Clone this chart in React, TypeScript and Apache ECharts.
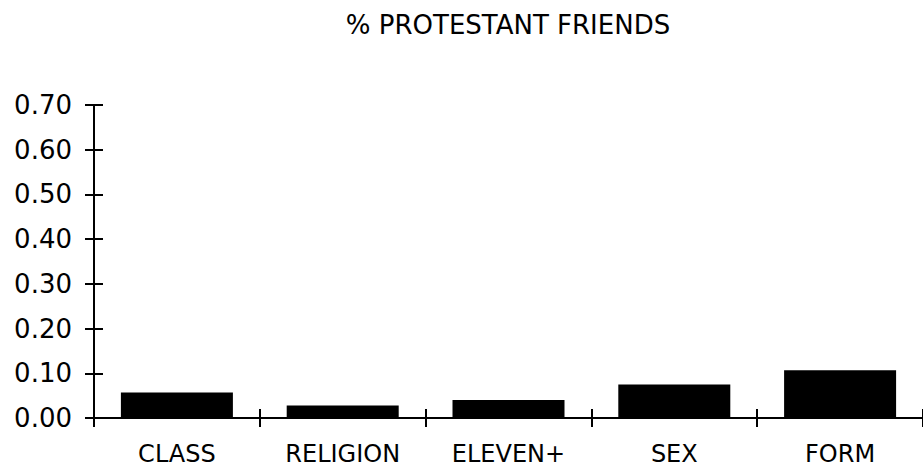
import React, { useEffect, useRef } from "react";
import * as echarts from "echarts";

const TITLE = "% PROTESTANT FRIENDS";
const categories = ["CLASS", "RELIGION", "ELEVEN+", "SEX", "FORM"];
const values = [0.057, 0.028, 0.04, 0.075, 0.107];
const yMin = 0;
const yMax = 0.7;
const yInterval = 0.1;

const FONT = "DejaVu Sans";

export default function App() {
  const ref = useRef<HTMLDivElement>(null);
  useEffect(() => {
    if (!ref.current) return;
    const chart = echarts.init(ref.current, undefined, { renderer: "svg" });
    const lineStyle = { color: "#000", width: 2 };
    chart.setOption({
      animation: false,
      backgroundColor: "#fff",
      graphic: [
        {
          type: "text",
          x: 508,
          y: 25,
          style: {
            text: TITLE,
            align: "center",
            verticalAlign: "middle",
            fontSize: 26,
            fontFamily: FONT,
            fill: "#000",
          },
        },
      ],
      grid: { left: 94, top: 105, bottom: 50, right: -5, containLabel: false },
      xAxis: [
        {
          type: "category",
          data: categories,
          position: "bottom",
          axisLine: { show: true, onZero: false, lineStyle },
          axisTick: { show: true, inside: false, length: 9, interval: 0, lineStyle },
          axisLabel: {
            show: true,
            interval: 0,
            margin: 26,
            fontSize: 24,
            lineHeight: 19,
            fontFamily: FONT,
            color: "#000",
          },
          splitLine: { show: false },
        },
        {
          type: "category",
          data: categories,
          position: "bottom",
          axisLine: { show: false, onZero: false },
          axisTick: { show: true, inside: true, length: 9, interval: 0, lineStyle },
          axisLabel: { show: false },
          splitLine: { show: false },
        },
      ],
      yAxis: [
        {
          type: "value",
          min: yMin,
          max: yMax,
          interval: yInterval,
          position: "left",
          axisLine: { show: true, lineStyle },
          axisTick: { show: true, inside: false, length: 9, lineStyle },
          axisLabel: {
            show: true,
            margin: 22,
            fontSize: 26,
            fontFamily: FONT,
            color: "#000",
            formatter: (v: number) => v.toFixed(2),
          },
          splitLine: { show: false },
        },
        {
          type: "value",
          min: yMin,
          max: yMax,
          interval: yInterval,
          position: "left",
          axisLine: { show: false },
          axisTick: { show: true, inside: true, length: 9, lineStyle },
          axisLabel: { show: false },
          splitLine: { show: false },
        },
      ],
      series: [
        {
          type: "bar",
          xAxisIndex: 0,
          yAxisIndex: 0,
          data: values,
          barWidth: 112,
          itemStyle: { color: "#000" },
        },
      ],
    });
    return () => chart.dispose();
  }, []);
  return (
    <div
      ref={ref}
      style={{ position: "fixed", left: 0, top: 0, width: 923, height: 468 }}
    />
  );
}
